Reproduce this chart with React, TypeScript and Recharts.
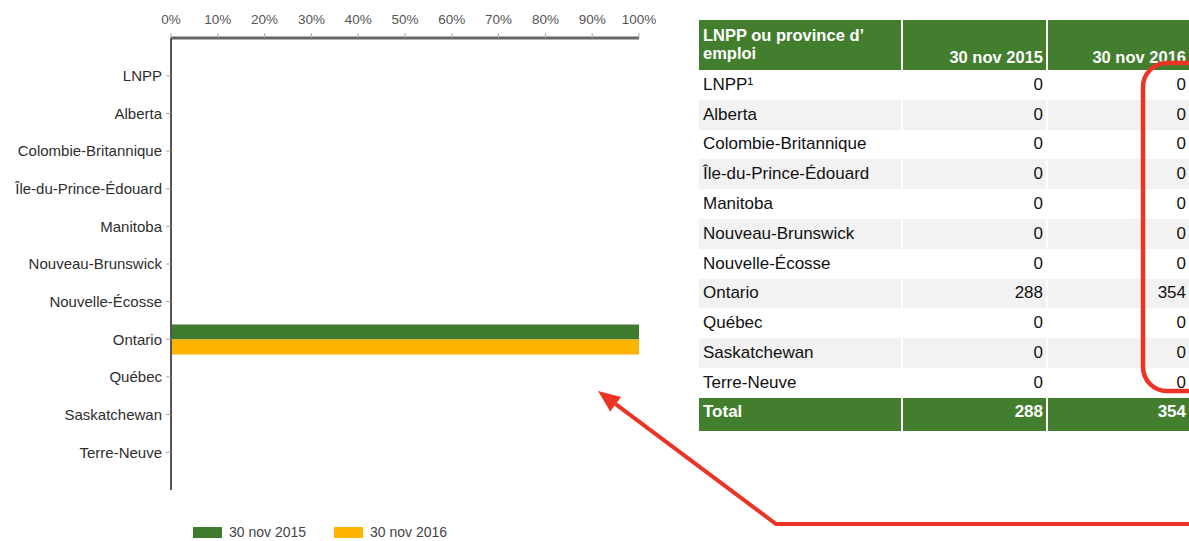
import React from 'react';
import { BarChart, Bar, XAxis, YAxis, Legend } from 'recharts';

const categories = [
  'LNPP',
  'Alberta',
  'Colombie-Britannique',
  'Île-du-Prince-Édouard',
  'Manitoba',
  'Nouveau-Brunswick',
  'Nouvelle-Écosse',
  'Ontario',
  'Québec',
  'Saskatchewan',
  'Terre-Neuve',
];
const tableLabels = [
  'LNPP¹',
  'Alberta',
  'Colombie-Britannique',
  'Île-du-Prince-Édouard',
  'Manitoba',
  'Nouveau-Brunswick',
  'Nouvelle-Écosse',
  'Ontario',
  'Québec',
  'Saskatchewan',
  'Terre-Neuve',
];
const counts2015 = [0, 0, 0, 0, 0, 0, 0, 288, 0, 0, 0];
const counts2016 = [0, 0, 0, 0, 0, 0, 0, 354, 0, 0, 0];
const seriesNames = ['30 nov 2015', '30 nov 2016'];
const xTicks = [0, 10, 20, 30, 40, 50, 60, 70, 80, 90, 100];
const tableHeader = ['LNPP ou province d’', 'emploi'];
const totalLabel = 'Total';

const FONT = '"Liberation Sans", Arial, Helvetica, sans-serif';
const GREEN = '#3f7b2c';
const YELLOW = '#ffb400';
const TABLE_GREEN = '#427e2e';
const RED = '#ec3326';

const total2015 = counts2015.reduce((a, b) => a + b, 0);
const total2016 = counts2016.reduce((a, b) => a + b, 0);

const chartData = categories.map((name, i) => ({
  name,
  v2015: total2015 ? (counts2015[i] / total2015) * 100 : 0,
  v2016: total2016 ? (counts2016[i] / total2016) * 100 : 0,
}));

const renderLegend = (props: any) => {
  const payload = props.payload || [];
  return (
    <div style={{ display: 'flex', alignItems: 'center', fontFamily: FONT, fontSize: 14, color: '#444' }}>
      {payload.map((p: any, i: number) => (
        <div key={i} style={{ display: 'flex', alignItems: 'center', marginRight: 28 }}>
          <div style={{ width: 29, height: 11, background: p.color }} />
          <span style={{ marginLeft: 7, whiteSpace: 'nowrap' }}>{p.value}</span>
        </div>
      ))}
    </div>
  );
};

const cellBase: React.CSSProperties = {
  fontFamily: FONT,
  fontSize: 17,
  color: '#111',
  display: 'flex',
  alignItems: 'center',
  boxSizing: 'border-box',
  whiteSpace: 'nowrap',
};

function DataTable() {
  const colW = [202, 143, 141];
  const gap = 2;
  const rowH = 29.8;
  return (
    <div style={{ position: 'absolute', left: 699, top: 20, width: 490, overflow: 'hidden' }}>
      <div style={{ display: 'flex', height: 50 }}>
        <div
          style={{
            width: colW[0],
            background: TABLE_GREEN,
            color: '#fff',
            fontFamily: FONT,
            fontWeight: 700,
            fontSize: 16.5,
            lineHeight: '18px',
            padding: '6px 4px 0 4px',
            boxSizing: 'border-box',
            whiteSpace: 'nowrap',
          }}
        >
          {tableHeader[0]}
          <br />
          {tableHeader[1]}
        </div>
        {seriesNames.map((s, j) => (
          <div
            key={j}
            style={{
              width: colW[j + 1],
              marginLeft: gap,
              background: TABLE_GREEN,
              color: '#fff',
              fontFamily: FONT,
              fontWeight: 700,
              fontSize: 16.5,
              display: 'flex',
              alignItems: 'flex-end',
              justifyContent: 'flex-end',
              padding: '0 3px 3px 0',
              boxSizing: 'border-box',
              whiteSpace: 'nowrap',
            }}
          >
            {s}
          </div>
        ))}
      </div>
      {tableLabels.map((lab, i) => {
        const bg = i % 2 === 0 ? '#ffffff' : '#f2f2f2';
        return (
          <div key={i} style={{ display: 'flex', height: rowH }}>
            <div style={{ ...cellBase, width: colW[0], background: bg, paddingLeft: 4 }}>{lab}</div>
            <div style={{ ...cellBase, width: colW[1], marginLeft: gap, background: bg, justifyContent: 'flex-end', paddingRight: 3 }}>
              {counts2015[i]}
            </div>
            <div style={{ ...cellBase, width: colW[2], marginLeft: gap, background: bg, justifyContent: 'flex-end', paddingRight: 3 }}>
              {counts2016[i]}
            </div>
          </div>
        );
      })}
      <div style={{ display: 'flex', height: 33 }}>
        {[totalLabel, String(total2015), String(total2016)].map((t, j) => (
          <div
            key={j}
            style={{
              width: colW[j],
              marginLeft: j === 0 ? 0 : gap,
              background: TABLE_GREEN,
              color: '#fff',
              fontFamily: FONT,
              fontWeight: 700,
              fontSize: 17,
              lineHeight: '19px',
              padding: j === 0 ? '4px 0 0 4px' : '4px 3px 0 0',
              textAlign: j === 0 ? 'left' : 'right',
              boxSizing: 'border-box',
            }}
          >
            {t}
          </div>
        ))}
      </div>
    </div>
  );
}

function Annotations() {
  const tip = { x: 598, y: 391 };
  const corner = { x: 776, y: 524 };
  const dx = tip.x - corner.x;
  const dy = tip.y - corner.y;
  const len = Math.sqrt(dx * dx + dy * dy);
  const ux = dx / len;
  const uy = dy / len;
  const L = 22;
  const w = 9;
  const bx = tip.x - L * ux;
  const by = tip.y - L * uy;
  const nx = -uy;
  const ny = ux;
  const head = `${tip.x},${tip.y} ${bx + w * nx},${by + w * ny} ${bx - w * nx},${by - w * ny}`;
  return (
    <svg
      width={1189}
      height={541}
      style={{ position: 'absolute', left: 0, top: 0, pointerEvents: 'none' }}
    >
      <rect x={1143} y={63} width={90} height={328} rx={24} ry={24} fill="none" stroke={RED} strokeWidth={4.5} />
      <polyline
        points={`1195,524 ${corner.x},${corner.y} ${bx},${by}`}
        fill="none"
        stroke={RED}
        strokeWidth={4}
        strokeLinejoin="miter"
      />
      <polygon points={head} fill={RED} />
    </svg>
  );
}

export default function App() {
  return (
    <div style={{ position: 'absolute', left: 0, top: 0, width: 1189, height: 541, background: '#fff', overflow: 'hidden' }}>
      <div style={{ position: 'absolute', left: 0, top: 0 }}>
        <BarChart
          width={660}
          height={541}
          data={chartData}
          layout="vertical"
          margin={{ top: 8, right: 21, left: 0, bottom: 51 }}
          barGap={0}
        >
          <XAxis
            type="number"
            orientation="top"
            domain={[0, 100]}
            ticks={xTicks}
            interval={0}
            height={30}
            tickFormatter={(v: number) => `${v}%`}
            axisLine={{ stroke: '#666', strokeWidth: 3 }}
            tickLine={{ stroke: '#aaa' }}
            tickSize={5}
            tickMargin={9}
            tick={{ fill: '#555', fontSize: 13.5, fontFamily: FONT }}
          />
          <YAxis
            type="category"
            dataKey="name"
            width={171}
            interval={0}
            padding={{ top: 19, bottom: 19 }}
            axisLine={{ stroke: '#555', strokeWidth: 2 }}
            tickLine={{ stroke: '#aaa' }}
            tickSize={5}
            tickMargin={4}
            tick={{ fill: '#2e2e2e', fontSize: 15, fontFamily: FONT }}
          />
          <Legend
            layout="horizontal"
            verticalAlign="middle"
            align="center"
            wrapperStyle={{ left: 193, top: 524, width: 320, height: 18 }}
            content={renderLegend}
          />
          <Bar dataKey="v2015" name={seriesNames[0]} fill={GREEN} barSize={15} isAnimationActive={false} />
          <Bar dataKey="v2016" name={seriesNames[1]} fill={YELLOW} barSize={15} isAnimationActive={false} />
        </BarChart>
      </div>
      <DataTable />
      <Annotations />
    </div>
  );
}
